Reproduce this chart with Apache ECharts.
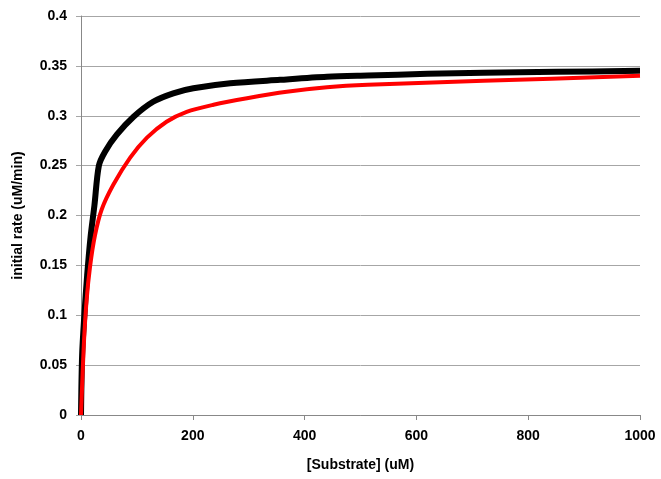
<!DOCTYPE html>
<html>
<head>
<meta charset="utf-8">
<script src="https://cdn.jsdelivr.net/npm/echarts@6/dist/echarts.min.js"></script>
<style>
  html, body { margin: 0; padding: 0; background: #fff; }
  #chart { width: 661px; height: 479px; }
</style>
</head>
<body>
<div id="chart"></div>
<script>
  // substrate concentration (uM) and initial rate (uM/min)
  var blackX = [0, 2, 6, 11, 17, 24, 32, 43, 64, 94, 129, 165, 201, 267, 356, 440, 513, 620, 720, 850, 1000];
  var blackY = [0, 0.06, 0.10, 0.14, 0.178, 0.21, 0.25, 0.264, 0.281, 0.299, 0.314, 0.3225, 0.3275, 0.3325, 0.336, 0.339, 0.3403, 0.342, 0.343, 0.344, 0.345];

  var redX = [0, 5, 10, 16, 25, 37, 58, 88, 118, 153, 189, 237, 297, 368, 440, 513, 720, 1000];
  var redY = [0, 0.07, 0.115, 0.148, 0.18, 0.206, 0.231, 0.258, 0.278, 0.294, 0.304, 0.311, 0.3175, 0.324, 0.3285, 0.331, 0.335, 0.340];

  var xTicks = [0, 200, 400, 600, 800, 1000];
  var yTicks = [0, 0.05, 0.1, 0.15, 0.2, 0.25, 0.3, 0.35, 0.4];

  function pairs(xs, ys) {
    return xs.map(function (x, i) { return [x, ys[i]]; });
  }

  var labelFont = { color: '#000', fontWeight: 'bold', fontSize: 14, fontFamily: 'Liberation Sans' };
  var titleFont = { color: '#000', fontWeight: 'bold', fontSize: 14, fontFamily: 'Liberation Sans' };

  var chart = echarts.init(document.getElementById('chart'));
  chart.setOption({
    animation: false,
    grid: { left: 81, right: 21, top: 16, bottom: 64 },
    xAxis: {
      type: 'value',
      min: xTicks[0],
      max: xTicks[xTicks.length - 1],
      interval: 200,
      name: '[Substrate] (uM)',
      nameLocation: 'middle',
      nameGap: 43,
      nameTextStyle: titleFont,
      axisLine: { lineStyle: { color: '#888', width: 1 } },
      axisTick: { show: true, length: 5, lineStyle: { color: '#888' } },
      axisLabel: Object.assign({ margin: 14, formatter: function (v) { return String(v); } }, labelFont),
      splitLine: { show: false }
    },
    yAxis: {
      type: 'value',
      min: yTicks[0],
      max: yTicks[yTicks.length - 1],
      interval: 0.05,
      name: 'initial rate (uM/min)',
      nameLocation: 'middle',
      nameGap: 56,
      nameTextStyle: titleFont,
      axisLine: { show: true, lineStyle: { color: '#888', width: 1 } },
      axisTick: { show: true, length: 5, lineStyle: { color: '#a6a6a6' } },
      axisLabel: Object.assign({ margin: 14, formatter: function (v) { return String(+v.toFixed(2)); } }, labelFont),
      splitLine: { show: true, lineStyle: { color: '#a6a6a6', width: 1 } }
    },
    series: [
      {
        type: 'line',
        data: pairs(blackX, blackY),
        smooth: 0.3,
        showSymbol: false,
        lineStyle: { color: '#000', width: 6 }
      },
      {
        type: 'line',
        data: pairs(redX, redY),
        smooth: 0.3,
        showSymbol: false,
        lineStyle: { color: '#ff0000', width: 4 }
      }
    ]
  });
</script>
</body>
</html>
